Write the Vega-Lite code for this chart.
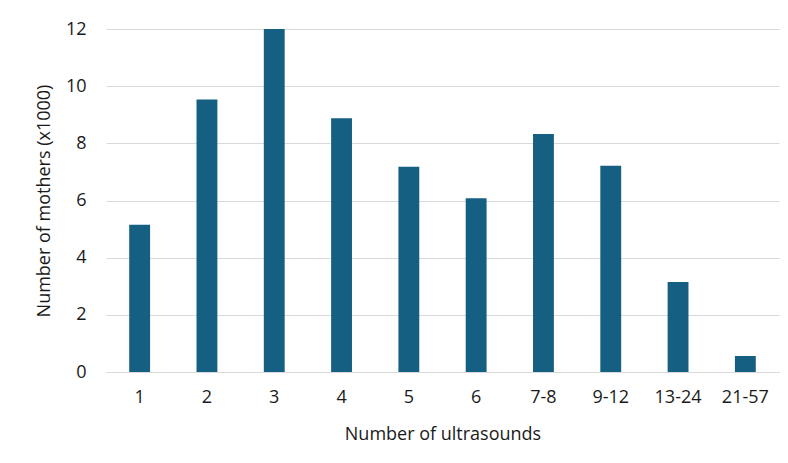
{
  "$schema": "https://vega.github.io/schema/vega-lite/v6.json",
  "width": 673,
  "height": 343,
  "autosize": {"type": "none"},
  "padding": {"left": 106, "top": 29, "right": 9, "bottom": 91},
  "background": "white",
  "data": {"values": [
    {"n": "1", "v": 5.15},
    {"n": "2", "v": 9.53},
    {"n": "3", "v": 12.0},
    {"n": "4", "v": 8.88},
    {"n": "5", "v": 7.18},
    {"n": "6", "v": 6.08},
    {"n": "7-8", "v": 8.33},
    {"n": "9-12", "v": 7.22},
    {"n": "13-24", "v": 3.15},
    {"n": "21-57", "v": 0.56}
  ]},
  "mark": {"type": "bar", "color": "#156082"},
  "encoding": {
    "x": {"field": "n", "type": "nominal", "sort": null,
      "scale": {"paddingInner": 0.69, "paddingOuter": 0.345},
      "axis": {"title": "Number of ultrasounds", "labelAngle": 0, "ticks": false, "domain": true, "domainColor": "#d9d9d9",
        "labelPadding": 16, "titlePadding": 19, "labelFontSize": 18, "titleFontSize": 18,
        "labelColor": "#1a1a1a", "titleColor": "#1a1a1a", "labelFont": "Open Sans", "titleFont": "Open Sans", "titleFontWeight": "normal"}},
    "y": {"field": "v", "type": "quantitative",
      "scale": {"domain": [0, 12]},
      "axis": {"title": "Number of mothers (x1000)", "values": [0,2,4,6,8,10,12], "ticks": false, "domain": false,
        "gridColor": "#d9d9d9", "labelPadding": 20, "titlePadding": 12, "labelFontSize": 18, "titleFontSize": 18,
        "labelColor": "#1a1a1a", "titleColor": "#1a1a1a", "labelFont": "Open Sans", "titleFont": "Open Sans", "titleFontWeight": "normal"}}
  },
  "config": {"view": {"stroke": null}}
}
